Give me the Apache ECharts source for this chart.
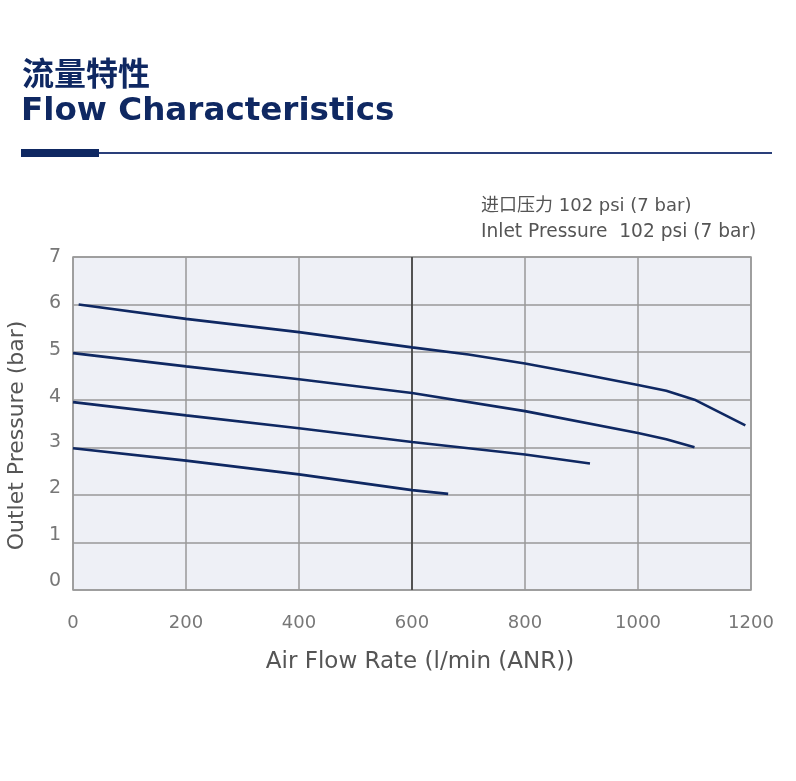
<!DOCTYPE html>
<html>
<head>
<meta charset="utf-8">
<script src="https://cdn.jsdelivr.net/npm/echarts@6/dist/echarts.min.js"></script>
<style>
html,body{margin:0;padding:0;background:#fff;}
#main{width:796px;height:781px;}
</style>
</head>
<body>
<div id="main"></div>
<script>
// ---- data ----
var xTicks = [0, 200, 400, 600, 800, 1000, 1200];
var yTicks = [0, 1, 2, 3, 4, 5, 6, 7];
var curve6X = [10, 200, 400, 600, 700, 800, 900, 1000, 1050, 1100, 1190];
var curve6Y = [6.0, 5.70, 5.42, 5.10, 4.95, 4.76, 4.54, 4.31, 4.19, 4.0, 3.46];
var curve5X = [0, 200, 400, 600, 800, 1000, 1050, 1100];
var curve5Y = [4.98, 4.70, 4.43, 4.14, 3.76, 3.30, 3.17, 3.0];
var curve4X = [0, 200, 400, 600, 800, 915];
var curve4Y = [3.95, 3.67, 3.40, 3.11, 2.85, 2.66];
var curve3X = [0, 200, 400, 600, 664];
var curve3Y = [2.98, 2.72, 2.43, 2.10, 2.02];
var highlightX = 600;

var FONT = '"DejaVu Sans", "Noto Sans CJK SC", sans-serif';
var NAVY = '#0f2862';

function pairs(xs, ys) { return xs.map(function (x, i) { return [x, ys[i]]; }); }

function curve(name, xs, ys) {
  return {
    name: name, type: 'line', data: pairs(xs, ys), smooth: false,
    showSymbol: false, symbol: 'none', z: 5,
    lineStyle: { color: NAVY, width: 2.6 }
  };
}

// small upward nudges of y tick labels, as in the printed chart
var yLabelLift = { 0: 9, 1: 7, 2: 7, 3: 5, 4: 3, 5: 2, 6: 2, 7: 0 };
var yRich = {};
Object.keys(yLabelLift).forEach(function (k) {
  yRich['l' + k] = { fontFamily: FONT, fontSize: 19, color: '#777', padding: [0, 0, yLabelLift[k] * 2, 0] };
});

var chart = echarts.init(document.getElementById('main'), null, { renderer: 'canvas' });
var series = [
  curve('6 bar', curve6X, curve6Y),
  curve('5 bar', curve5X, curve5Y),
  curve('4 bar', curve4X, curve4Y),
  curve('3 bar', curve3X, curve3Y)
];
series[0].markLine = {
  silent: true, symbol: 'none', label: { show: false }, z: 3,
  lineStyle: { color: '#333', width: 1.5, type: 'solid' },
  data: [{ xAxis: highlightX }]
};

chart.setOption({
  animation: false,
  backgroundColor: '#ffffff',
  grid: {
    left: 73, right: 45, top: 257, bottom: 191, containLabel: false, outerBoundsMode: 'none',
    show: true, backgroundColor: '#eef0f6', borderColor: '#999', borderWidth: 1.5
  },
  xAxis: {
    type: 'value', min: xTicks[0], max: xTicks[xTicks.length - 1], interval: 200,
    name: 'Air Flow Rate (l/min (ANR))', nameLocation: 'middle', nameGap: 61,
    nameTextStyle: { fontFamily: FONT, fontSize: 23, color: '#555', padding: [0, 0, 0, 16] },
    axisLine: { show: false }, axisTick: { show: false },
    axisLabel: { margin: 24, fontFamily: FONT, fontSize: 18, color: '#777', formatter: function (v) { return String(v); } },
    splitLine: { show: true, lineStyle: { color: '#999', width: 1.5 } }
  },
  yAxis: {
    type: 'value', min: yTicks[0], max: yTicks[yTicks.length - 1], interval: 1,
    name: 'Outlet Pressure (bar)', nameLocation: 'middle', nameGap: 45,
    nameTextStyle: { fontFamily: FONT, fontSize: 22, color: '#555', padding: [0, 24, 0, 0] },
    axisLine: { show: false }, axisTick: { show: false },
    axisLabel: {
      margin: 12, fontFamily: FONT, fontSize: 19, color: '#777',
      formatter: function (v) { return '{l' + v + '|' + v + '}'; }, rich: yRich
    },
    splitLine: { show: true, lineStyle: { color: '#999', width: 1.5 } }
  },
  graphic: [
    { type: 'text', style: { x: 22, y: 73, verticalAlign: 'middle', text: '流量特性', font: 'bold 32px "Noto Sans CJK SC", sans-serif', fill: NAVY } },
    { type: 'text', style: { x: 21, y: 112, verticalAlign: 'middle', text: 'Flow Characteristics', font: 'bold 32.6px ' + FONT, fill: NAVY } },
    { type: 'rect', shape: { x: 21, y: 149, width: 78, height: 8 }, style: { fill: NAVY } },
    { type: 'rect', shape: { x: 99, y: 152, width: 673, height: 2 }, style: { fill: '#2a3f7a' } },
    { type: 'text', style: { x: 481, y: 206, verticalAlign: 'middle', text: '进口压力 102 psi (7 bar)', font: '18px ' + FONT, fill: '#555' } },
    { type: 'text', style: { x: 481, y: 232, verticalAlign: 'middle', text: 'Inlet Pressure  102 psi (7 bar)', font: '18.6px ' + FONT, fill: '#555' } }
  ],
  series: series
});
</script>
</body>
</html>
